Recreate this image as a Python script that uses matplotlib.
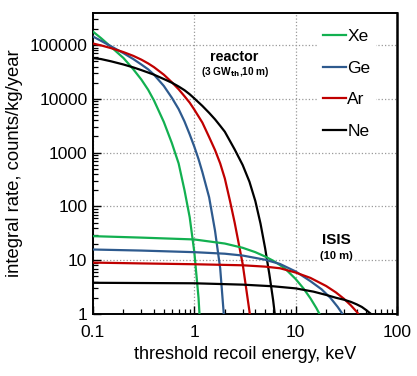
import matplotlib
matplotlib.use("Agg")
import matplotlib.pyplot as plt
from matplotlib.ticker import FixedLocator, FixedFormatter, LogLocator, NullFormatter

plt.rcParams['font.family'] = ['Liberation Sans', 'DejaVu Sans']

# Reactor (3 GW_th, 10 m): integral rate vs threshold recoil energy (keV)
xe_r_x = [0.1, 0.12, 0.15, 0.2, 0.25, 0.3, 0.35, 0.4, 0.5, 0.6, 0.7, 0.8, 0.9, 1.0, 1.1, 1.2]
xe_r_y = [178000, 135000, 93300, 57500, 35500, 22900, 14800, 9330, 3720, 1510, 631, 200, 63.1, 14.1, 2.0, 0.126]
ge_r_x = [0.1, 0.12, 0.15, 0.2, 0.25, 0.3, 0.35, 0.4, 0.5, 0.6, 0.7, 0.8, 0.9, 1.0, 1.1, 1.2, 1.4, 1.6, 1.8, 2.0]
ge_r_y = [144500, 120200, 95500, 70800, 55000, 43600, 35500, 28200, 17400, 10500, 6460, 3800, 2190, 1290,
          759, 437, 148, 35.5, 7.08, 0.56]
ar_r_x = [0.1, 0.12, 0.15, 0.2, 0.25, 0.3, 0.35, 0.4, 0.5, 0.6, 0.7, 0.8, 0.9, 1.0, 1.2, 1.4, 1.6, 1.8,
          2.0, 2.25, 2.5, 3.0, 3.5, 4.0]
ar_r_y = [107000, 98900, 88100, 74100, 63100, 53700, 45700, 38900, 28200, 20400, 15100, 11200, 8510, 6310,
          3630, 1950, 1120, 631, 331, 126, 50.1, 8.51, 1.12, 0.126]
ne_r_x = [0.1, 0.12, 0.15, 0.2, 0.25, 0.3, 0.35, 0.4, 0.5, 0.6, 0.7, 0.8, 0.9, 1.0, 1.2, 1.4, 1.6, 1.8,
          2.0, 2.5, 3.0, 3.5, 4.0, 4.5, 5.0, 5.5, 6.0, 6.5]
ne_r_y = [57500, 55000, 50100, 43600, 38500, 34300, 30900, 28200, 23400, 20000, 17000, 14500, 12200, 10200,
          7410, 5500, 4170, 3160, 2450, 1150, 589, 288, 126, 47.9, 16.6, 5.50, 1.78, 0.5]

# ISIS (10 m)
xe_i_x = [0.1, 0.3, 1, 2, 3, 4, 5, 6, 7, 8, 10, 12, 14, 16, 18, 20]
xe_i_y = [28.0, 26.3, 24.3, 20.4, 17.0, 14.1, 11.7, 9.77, 8.13, 6.76, 4.47, 2.95, 1.95, 1.29, 0.85, 0.56]
ge_i_x = [0.1, 0.3, 1, 2, 3, 5, 7, 10, 14, 18, 22, 26, 30, 34]
ge_i_y = [15.8, 15.1, 14.1, 13.2, 12.2, 10.2, 8.51, 6.17, 4.07, 2.88, 2.0, 1.35, 0.91, 0.63]
ar_i_x = [0.1, 0.3, 1, 3, 5, 7, 10, 14, 20, 25, 30, 35, 40, 45, 50]
ar_i_y = [9.02, 8.71, 8.41, 8.04, 7.59, 7.08, 5.89, 4.68, 3.31, 2.51, 1.91, 1.45, 1.10, 0.81, 0.60]
ne_i_x = [0.1, 1, 3, 6, 10, 15, 20, 25, 30, 35, 40, 45, 50, 55, 60, 65]
ne_i_y = [3.80, 3.72, 3.51, 3.27, 2.99, 2.60, 2.26, 2.0, 1.84, 1.68, 1.51, 1.35, 1.17, 1.01, 0.85, 0.71]

labels = ['Xe', 'Ge', 'Ar', 'Ne']
colors = ['#12b050', '#2e5a8e', '#c00000', '#000000']

x_ticks = [0.1, 1, 10, 100]
x_ticklabels = ['0.1', '1', '10', '100']
y_ticks = [1, 10, 100, 1000, 10000, 100000]
y_ticklabels = ['1', '10', '100', '1000', '10000', '100000']

fig = plt.figure(figsize=(4.17, 3.76), dpi=100)
ax = fig.add_axes([0.223, 0.165, 0.729, 0.800])

reactor = [(xe_r_x, xe_r_y), (ge_r_x, ge_r_y), (ar_r_x, ar_r_y), (ne_r_x, ne_r_y)]
isis = [(xe_i_x, xe_i_y), (ge_i_x, ge_i_y), (ar_i_x, ar_i_y), (ne_i_x, ne_i_y)]

handles = []
for (x, y), c, lab in zip(reactor, colors, labels):
    h, = ax.plot(x, y, color=c, lw=1.6, label=lab, zorder=3, solid_joinstyle='round')
    handles.append(h)
for (x, y), c in zip(isis, colors):
    ax.plot(x, y, color=c, lw=1.6, zorder=3, solid_joinstyle='round')

ax.set_xscale('log')
ax.set_yscale('log')
ax.set_xlim(0.1, 100)
ax.set_ylim(1, 3.93e5)

ax.xaxis.set_major_locator(FixedLocator(x_ticks))
ax.xaxis.set_major_formatter(FixedFormatter(x_ticklabels))
ax.yaxis.set_major_locator(FixedLocator(y_ticks))
ax.yaxis.set_major_formatter(FixedFormatter(y_ticklabels))
ax.xaxis.set_minor_locator(LogLocator(base=10, subs=range(2, 10)))
ax.yaxis.set_minor_locator(LogLocator(base=10, subs=range(2, 10)))
ax.xaxis.set_minor_formatter(NullFormatter())
ax.yaxis.set_minor_formatter(NullFormatter())

ax.tick_params(which='major', direction='in', length=6, width=1.0, labelsize=12.5,
               top=False, right=False)
ax.tick_params(which='minor', direction='in', length=3.5, width=0.9, top=False, right=False)
ax.tick_params(axis='x', which='major', pad=8)
ax.tick_params(axis='y', which='major', pad=4)

ax.grid(True, which='major', color='#999999', linestyle=':', linewidth=0.9, zorder=0)
ax.set_axisbelow(True)

for s in ax.spines.values():
    s.set_linewidth(1.4)
ax.spines['right'].set_linewidth(1.8)

ax.set_xlabel('threshold recoil energy, keV', fontsize=13, labelpad=4)
ax.set_ylabel('integral rate, counts/kg/year', fontsize=13.3, labelpad=5)

bbox = dict(facecolor='white', edgecolor='none', pad=1.5)
ax.text(0.465, 0.855, 'reactor', transform=ax.transAxes, ha='center', va='center',
        fontsize=10.3, fontweight='bold', bbox=bbox, zorder=2)
ax.text(0.468, 0.805, r'(3 GW$_{\mathbf{th}}$,10 m)', transform=ax.transAxes, ha='center',
        va='center', fontsize=7.3, fontweight='bold', zorder=2)
ax.text(0.80, 0.245, 'ISIS', transform=ax.transAxes, ha='center', va='center',
        fontsize=11, fontweight='bold', bbox=bbox, zorder=2)
ax.text(0.80, 0.193, '(10 m)', transform=ax.transAxes, ha='center', va='center',
        fontsize=8, fontweight='bold', bbox=bbox, zorder=2)

leg = ax.legend(handles=handles, loc='upper right', bbox_to_anchor=(0.93, 0.965),
                frameon=True, fancybox=False, fontsize=12.5, handlelength=1.3,
                handletextpad=0.1, labelspacing=0.95, borderpad=0.3, borderaxespad=0)
leg.get_frame().set_edgecolor('none')
leg.get_frame().set_facecolor('white')
leg.get_frame().set_alpha(1)

fig.savefig('out.png', dpi=100)
